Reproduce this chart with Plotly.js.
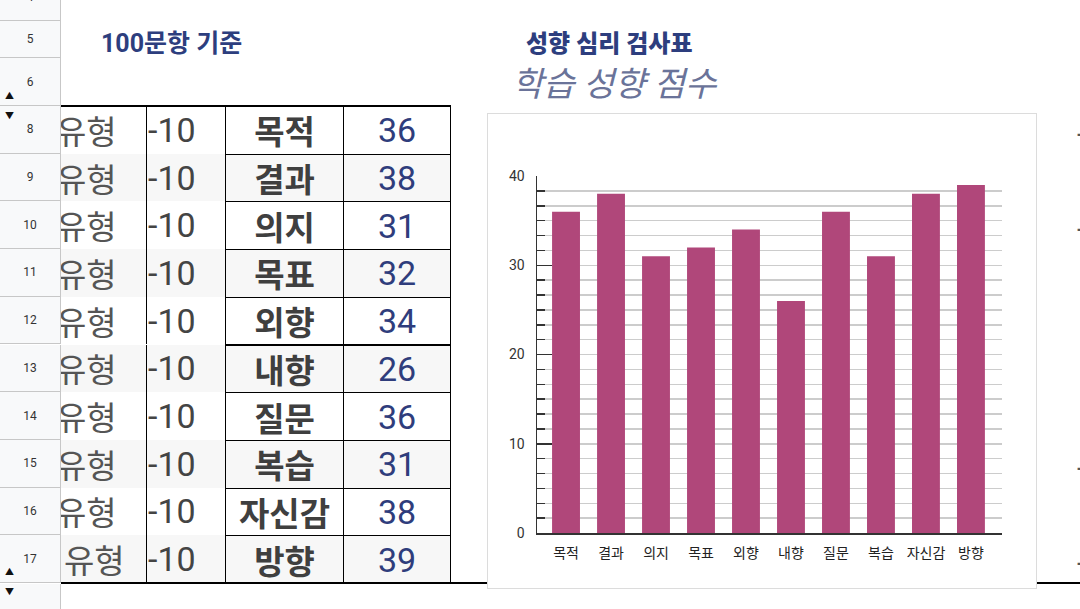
<!DOCTYPE html>
<html>
<head>
<meta charset="utf-8">
<script src="https://cdn.plot.ly/plotly-3.0.1.min.js"></script>
<style>
  body { margin: 0; width: 1080px; height: 609px; overflow: hidden; background: #fff;
         font-family: Roboto, "Noto Sans CJK KR", sans-serif; position: relative; }
  .abs { position: absolute; white-space: nowrap; }
  .hdr { position: absolute; left: 0; width: 60px; background: #f8f9fa;
         border-bottom: 1px solid #c7c7c7; border-right: 1px solid #c7c7c7;
         font-size: 12px; color: #333; display: flex; align-items: center; justify-content: center; }
  .cell { position: absolute; box-sizing: border-box; overflow: hidden; white-space: nowrap;
          display: flex; align-items: center; font-size: 33px; }
  .arrow { position: absolute; left: 5px; font-size: 9px; color: #111; }
</style>
</head>
<body>
<div id="sheet"></div>
<div id="myGraph" class="abs" style="left:487px; top:113px; width:548px; height:474px; border:1px solid #dcdcdc;"></div>
<script>
// sheet values
const rowNumbers = [8, 9, 10, 11, 12, 13, 14, 15, 16, 17];
const typeLabels = ['유형', '유형', '유형', '유형', '유형', '유형', '유형', '유형', '유형', '유형'];
const offsets = [-10, -10, -10, -10, -10, -10, -10, -10, -10, -10];
const categories = ['목적', '결과', '의지', '목표', '외향', '내향', '질문', '복습', '자신감', '방향'];
const scores = [36, 38, 31, 32, 34, 26, 36, 31, 38, 39];

const sheet = document.getElementById('sheet');
function add(html) { sheet.insertAdjacentHTML('beforeend', html); }

// row header column
add('<div class="hdr" style="top:-27px;height:47px;">4</div>');
add('<div class="hdr" style="top:21px;height:36px;">5</div>');
add('<div class="hdr" style="top:58px;height:47px;">6</div>');
add('<div class="arrow" style="top:89px;">&#9650;</div>');
const rowTop = 106, rowH = 47.7;
rowNumbers.forEach((n, i) => {
    const top = rowTop + i * rowH;
    add('<div class="hdr" style="top:' + top + 'px;height:' + (rowH - 1) + 'px;">' + n + '</div>');
});
add('<div class="hdr" style="top:584px;height:40px;border-bottom:none;"></div>');
add('<div class="arrow" style="top:109px;">&#9660;</div>');
add('<div class="arrow" style="top:565px;">&#9650;</div>');
add('<div class="arrow" style="top:585px;">&#9660;</div>');

// titles
add('<div class="abs" style="left:101px;top:23px;font-size:25px;font-weight:bold;color:#2d3e7e;">100문항 기준</div>');
add('<div class="abs" style="left:526px;top:24px;font-size:24px;font-weight:900;color:#2d3e7e;">성향 심리 검사표</div>');
add('<div class="abs" style="left:512px;top:57px;font-size:34px;font-style:italic;color:#6a7399;">학습 성향 점수</div>');

// table
rowNumbers.forEach((n, i) => {
    const top = rowTop + i * rowH;
    const bg = i % 2 === 1 ? '#f7f7f7' : '#ffffff';
    add('<div class="cell" style="left:61px;top:' + top + 'px;width:86px;height:' + rowH + 'px;background:' + bg + ';color:#555;">' +
        '<span style="margin-left:' + (i === 9 ? 3 : -5) + 'px;">' + typeLabels[i] + '</span></div>');
    add('<div class="cell" style="left:146px;top:' + top + 'px;width:80px;height:' + rowH + 'px;background:' + bg + ';color:#444;border-left:1px solid #000;font-size:34px;">' +
        '<span style="margin-left:1px;">' + offsets[i] + '</span></div>');
    add('<div class="cell" style="left:225px;top:' + top + 'px;width:119px;height:' + (rowH + 1) + 'px;background:' + bg + ';color:#3f3f3f;font-weight:bold;justify-content:center;border:1px solid #000;">' +
        categories[i] + '</div>');
    add('<div class="cell" style="left:343px;top:' + top + 'px;width:108px;height:' + (rowH + 1) + 'px;background:' + bg + ';color:#2f3d7c;justify-content:center;border:1px solid #000;font-size:34px;">' +
        scores[i] + '</div>');
});
add('<div class="abs" style="left:61px;top:105px;width:390px;height:2px;background:#000;"></div>');
add('<div class="abs" style="left:61px;top:582px;width:1019px;height:2px;background:#000;"></div>');

// clipped cells at the right edge
[0, 2, 7, 9].forEach(i => {
    const top = rowTop + i * rowH;
    add('<div class="cell" style="left:1076px;top:' + top + 'px;width:4px;height:' + rowH + 'px;color:#555;">유형</div>');
});

// chart
const barData = {
    x: categories,
    y: scores,
    type: 'bar',
    marker: { color: '#b0477a' },
    hoverinfo: 'none'
};

const layout = {
    width: 548,
    height: 474,
    margin: { l: 49, r: 34, t: 62, b: 55 },
    paper_bgcolor: '#ffffff',
    plot_bgcolor: '#ffffff',
    showlegend: false,
    bargap: 0.38,
    font: { family: 'Roboto, "Noto Sans CJK KR", sans-serif', color: '#222' },
    xaxis: {
        type: 'category',
        range: [-0.645, 9.69],
        showline: true,
        linecolor: '#333',
        linewidth: 2,
        ticks: '',
        showgrid: false,
        ticklabelstandoff: 6,
        tickfont: { size: 14, family: '"Noto Sans CJK KR", sans-serif', color: '#222' }
    },
    yaxis: {
        range: [0, 40],
        tickmode: 'linear',
        tick0: 0,
        dtick: 10,
        showline: true,
        linecolor: '#333',
        linewidth: 1.5,
        ticks: 'inside',
        ticklen: 15,
        tickwidth: 1.5,
        tickcolor: '#333',
        showgrid: true,
        gridcolor: '#cccccc',
        gridwidth: 1.5,
        zeroline: false,
        ticklabelstandoff: 8,
        tickfont: { size: 14, color: '#333' },
        minor: {
            tickmode: 'linear',
            tick0: 0,
            dtick: 10 / 6,
            ticks: 'inside',
            ticklen: 8,
            tickwidth: 1.5,
            tickcolor: '#333',
            showgrid: true,
            gridcolor: '#cccccc',
            gridwidth: 1.5
        }
    }
};

Plotly.newPlot('myGraph', [barData], layout, { displayModeBar: false, staticPlot: true });
</script>
</body>
</html>
